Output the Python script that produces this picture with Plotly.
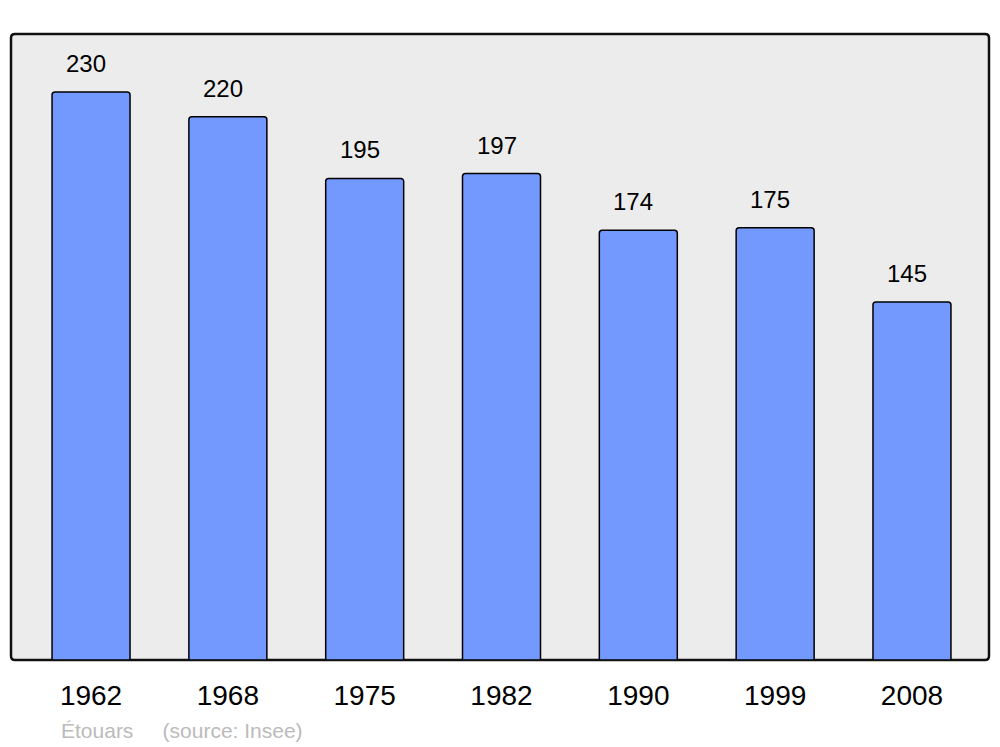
import plotly.graph_objects as go

# Population d'Étouars (source : Insee)
annees = ["1962", "1968", "1975", "1982", "1990", "1999", "2008"]
population = [230, 220, 195, 197, 174, 175, 145]

FOND = "#ececec"
BARRE = "#7399ff"
POLICE = "Liberation Sans, Arial, sans-serif"

positions = list(range(len(annees)))

fig = go.Figure(go.Bar(
    x=positions,
    y=population,
    width=0.57,
    marker=dict(color=BARRE, line=dict(color="black", width=1.5), cornerradius=3),
    hoverinfo="x+y",
    showlegend=False,
))

# étiquettes de valeur au-dessus des barres (légèrement décalées à gauche)
for xi, v in zip(positions, population):
    fig.add_annotation(x=xi, y=v, text=str(v), showarrow=False,
                       yanchor="bottom", yshift=13, xshift=-5,
                       font=dict(size=24, color="black", family=POLICE))

fig.add_annotation(x=0.049, y=-0.112, xref="paper", yref="paper",
                   xanchor="left", yanchor="middle", showarrow=False,
                   text="Étouars &nbsp;&nbsp;&nbsp; (source: Insee)",
                   font=dict(size=21, color="#bbbbbb", family=POLICE))

# cadre arrondi de la zone de tracé (rayon ~4 px)
rx, ry = 4 / 978, 4 / 626
cadre = (f"M {rx},0 L {1 - rx},0 Q 1,0 1,{ry} L 1,{1 - ry} Q 1,1 {1 - rx},1 "
         f"L {rx},1 Q 0,1 0,{1 - ry} L 0,{ry} Q 0,0 {rx},0 Z")
fig.add_shape(type="path", xref="paper", yref="paper", path=cadre,
              layer="below", fillcolor=FOND, line=dict(color="#111111", width=2.5))

fig.update_layout(
    width=1000, height=747,
    margin=dict(l=11, r=11, t=34, b=87),
    paper_bgcolor="white",
    plot_bgcolor="rgba(0,0,0,0)",
    font=dict(family=POLICE),
    xaxis=dict(tickvals=positions, ticktext=annees, range=[-0.585, 6.563],
               showgrid=False, zeroline=False, ticks="outside", ticklen=10,
               tickcolor="rgba(0,0,0,0)", tickfont=dict(size=28, color="black")),
    yaxis=dict(range=[0, 253.5], visible=False, showgrid=False),
)

fig.write_html("out.html", config={"displayModeBar": False},
               post_script="document.body.style.margin='0';")
